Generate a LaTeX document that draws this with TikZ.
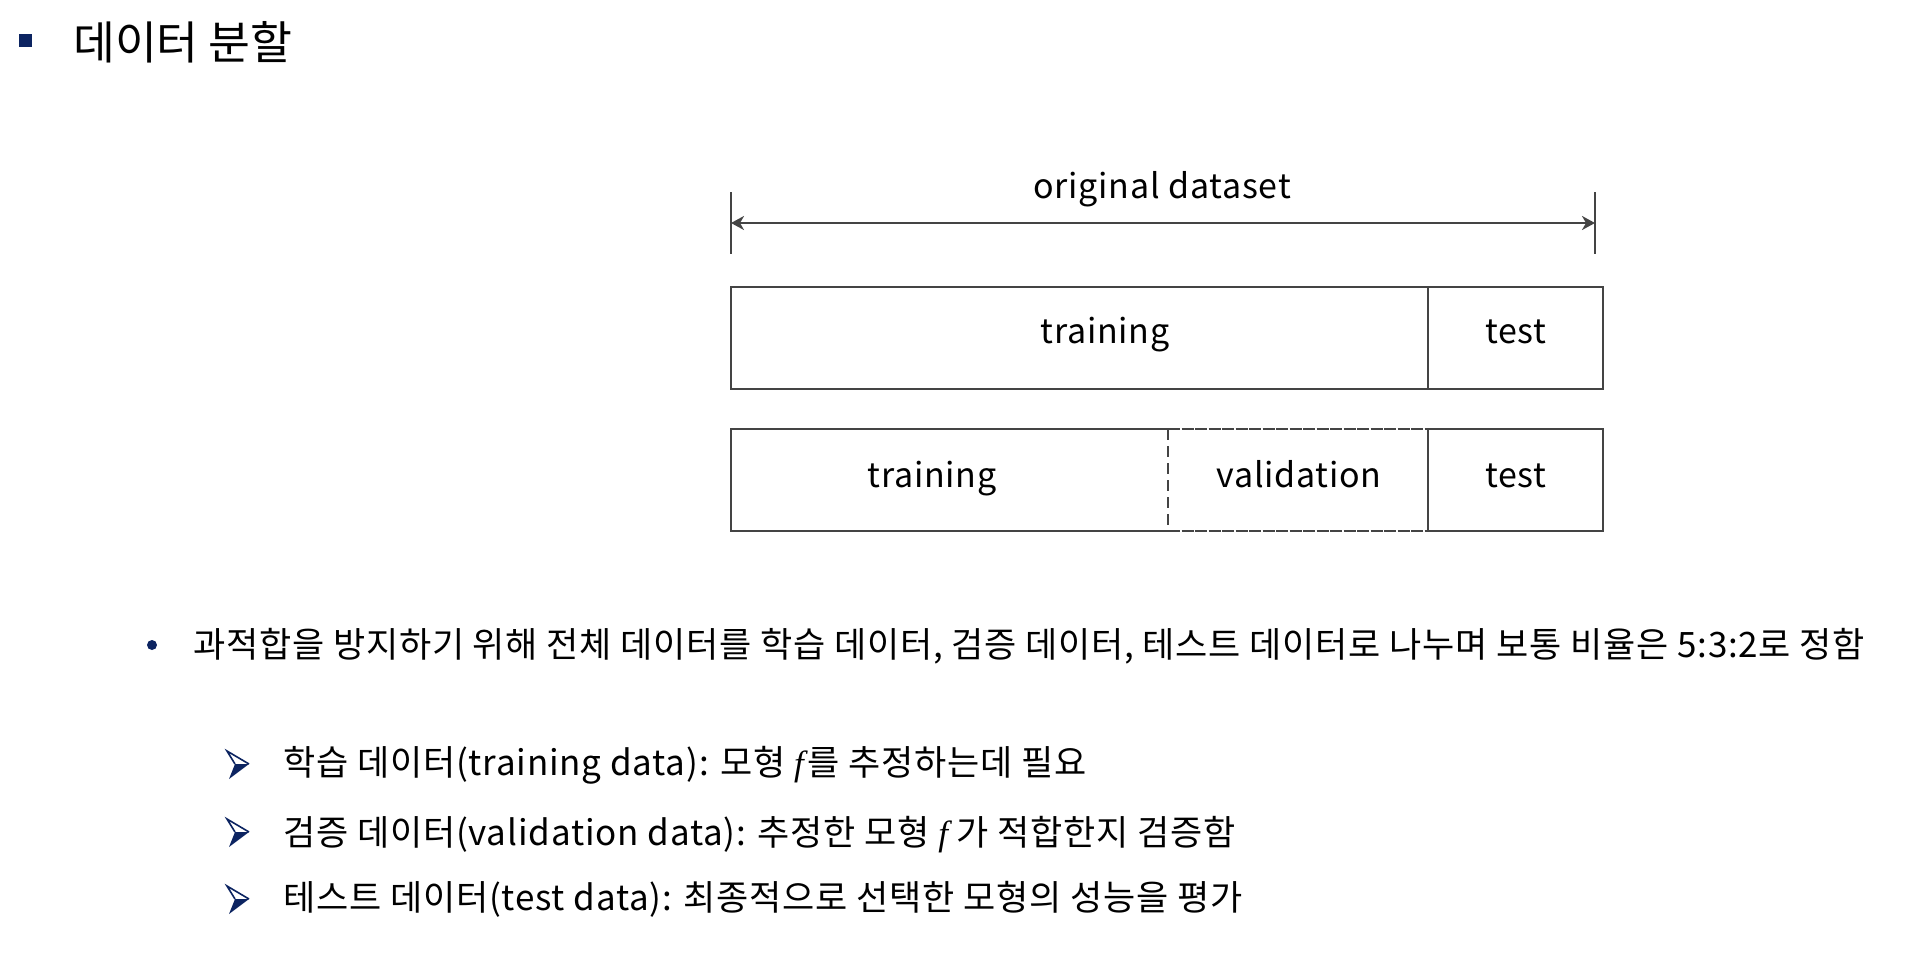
\documentclass[tikz,border=0pt]{standalone}
\usepackage{fontspec}
\setmainfont{Noto Sans CJK KR}
\newfontfamily\labelfont[LetterSpace=2.3]{Noto Sans CJK KR}
\newfontfamily\bodyfont[LetterSpace=2.3]{Noto Sans CJK KR}
\newfontfamily\serifit{Liberation Serif}
\usetikzlibrary{arrows.meta}
\definecolor{navy}{RGB}{12,36,97}
\definecolor{rulegray}{RGB}{68,68,68}
\begin{document}
\begin{tikzpicture}[x=1pt,y=-1pt,
  >={Stealth[length=13pt, width=14pt, inset=4pt]},
  lbl/.style={font=\labelfont\fontsize{34}{40}\selectfont, inner sep=0pt, anchor=base},
  bodytext/.style={font=\bodyfont\fontsize{35}{40}\selectfont, inner sep=0pt, anchor=base west},
  part/.style={inner sep=0pt, outer sep=0pt, minimum height=102pt},
  solidedge/.style={draw=rulegray, line width=2pt},
  dashedge/.style={draw=rulegray, line width=2pt, dash pattern=on 11pt off 6pt},
  fineedge/.style={draw=rulegray, line width=2pt, dash pattern=on 12pt off 1.5pt},
  arrmark/.pic={
    % two-facet arrowhead: outlined upper facet, filled lower facet
    \fill[navy] (-3,0) -- (11,0) -- (-9,15) -- cycle;
    \draw[navy, line width=1.6pt, line join=miter] (-3,0) -- (-11,-13) -- (11,0);
  }
]
\useasboundingbox (0,0) rectangle (1916,972);
\fill[white] (0,0) rectangle (1916,972);

% heading
\node[fill=navy, minimum size=13pt, inner sep=0pt] (sq) at (25.5,40) {};
\node[anchor=base west, inner sep=0pt, font=\fontsize{45.5}{50}\selectfont] (title) at (73,59) {데이터 분할};

% dimension line over the whole dataset
\coordinate (dlt) at (731,192);
\coordinate (dlb) at (731,254);
\coordinate (drt) at (1595,192);
\coordinate (drb) at (1595,254);
\coordinate (dl) at (731,223);
\coordinate (dr) at (1595,223);
\draw[rulegray, line width=2pt] (dlt) -- (dlb);
\draw[rulegray, line width=2pt] (drt) -- (drb);
\draw[rulegray, line width=2pt, <->] (dl) -- (dr);
\node[lbl] (orig) at (1162,198) {original dataset};

% first split: training / test
\node[part, solidedge, minimum width=697pt] (trA) at (1079.5,338) {};
\node[part, solidedge, minimum width=175pt] (teA) at (1515.5,338) {};
\node[lbl] (trAl) at (1105,343) {training};
\node[lbl] (teAl) at (1516,343) {test};

% second split: training / validation / test
\node[part, minimum width=437pt] (trB) at (949.5,480) {};
\draw[solidedge] (trB.north east) -- (trB.north west) -- (trB.south west) -- (trB.south east);
\node[part, minimum width=260pt] (vaB) at (1298,480) {};
\draw[dashedge] (vaB.north west) -- (vaB.south west);
\draw[fineedge] (vaB.north west) -- (vaB.north east);
\draw[fineedge] (vaB.south west) -- (vaB.south east);
\node[part, solidedge, minimum width=175pt] (teB) at (1515.5,480) {};
\node[lbl] (trBl) at (932,487) {training};
\node[lbl] (vaBl) at (1299,487) {validation};
\node[lbl] (teBl) at (1516,487) {test};

% main bullet
\node[circle, fill=navy, minimum size=10pt, inner sep=0pt] (dot) at (152,645) {};
\node[bodytext] (main) at (193,657) {과적합을 방지하기 위해 전체 데이터를 학습 데이터, 검증 데이터, 테스트 데이터로 나누며 보통 비율은 5:3:2로 정함};

% sub bullets
\pic at (238,764) {arrmark};
\pic at (238,832) {arrmark};
\pic at (238,899) {arrmark};
\node[bodytext] (s1) at (283,775) {학습 데이터(training data): 모형 {\serifit\itshape f}\kern4pt 를 추정하는데 필요};
\node[bodytext] (s2) at (283,845) {검증 데이터(validation data): 추정한 모형 {\serifit\itshape f} 가 적합한지 검증함};
\node[bodytext] (s3) at (283,910) {테스트 데이터(test data): 최종적으로 선택한 모형의 성능을 평가};
\end{tikzpicture}
\end{document}
